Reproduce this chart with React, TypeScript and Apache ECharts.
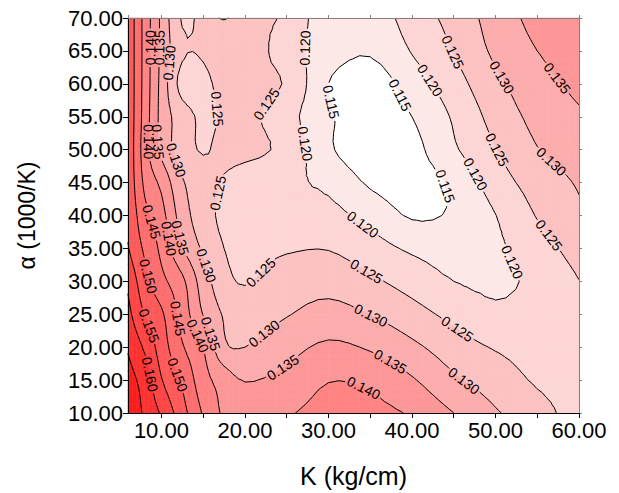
import React, { useEffect, useRef } from "react";
import * as echarts from "echarts";

// ---------------- data ----------------
const kValues = [6, 8, 10, 12.5, 15, 17.5, 20, 25, 30, 35, 40, 45, 50, 55, 60];
const alphaValues = [10, 15, 20, 25, 30, 35, 40, 45, 50, 55, 60, 65, 70];

const zAt10 = [0.169, 0.1642, 0.1594, 0.1519, 0.1445, 0.1392, 0.1376, 0.1395, 0.1418, 0.1415, 0.1394, 0.135, 0.1305, 0.127, 0.1225];
const zAt15 = [0.167, 0.1628, 0.1553, 0.1492, 0.142, 0.1378, 0.1348, 0.1365, 0.1398, 0.139, 0.1355, 0.1308, 0.1276, 0.1244, 0.1228];
const zAt20 = [0.1645, 0.1592, 0.1526, 0.1455, 0.14, 0.131, 0.13, 0.1332, 0.1359, 0.1344, 0.1311, 0.1274, 0.1246, 0.1232, 0.1232];
const zAt25 = [0.1615, 0.1548, 0.1508, 0.143, 0.1348, 0.1295, 0.1275, 0.1297, 0.1318, 0.1299, 0.1269, 0.1236, 0.1209, 0.1222, 0.1238];
const zAt30 = [0.159, 0.1517, 0.1465, 0.1411, 0.1325, 0.1268, 0.1247, 0.1273, 0.1281, 0.1259, 0.123, 0.12, 0.1193, 0.121, 0.1249];
const zAt35 = [0.1553, 0.1491, 0.1438, 0.1353, 0.1292, 0.125, 0.1235, 0.1245, 0.1248, 0.1222, 0.1192, 0.118, 0.1192, 0.1228, 0.1272];
const zAt40 = [0.1545, 0.1465, 0.1418, 0.1325, 0.1271, 0.124, 0.1234, 0.1212, 0.1215, 0.1183, 0.1145, 0.1157, 0.1199, 0.1253, 0.1292];
const zAt45 = [0.154, 0.144, 0.1388, 0.1305, 0.1273, 0.1245, 0.1225, 0.1208, 0.119, 0.1143, 0.113, 0.116, 0.1225, 0.1272, 0.1305];
const zAt50 = [0.154, 0.1425, 0.1338, 0.1275, 0.1246, 0.1265, 0.1265, 0.1235, 0.1158, 0.112, 0.1135, 0.1193, 0.1248, 0.1298, 0.1325];
const zAt55 = [0.154, 0.143, 0.1335, 0.1273, 0.1242, 0.1255, 0.1265, 0.1218, 0.1158, 0.112, 0.115, 0.1206, 0.1268, 0.1315, 0.1343];
const zAt60 = [0.154, 0.1432, 0.1335, 0.1232, 0.1238, 0.1265, 0.1268, 0.1245, 0.115, 0.1125, 0.1174, 0.1229, 0.1288, 0.1332, 0.1362];
const zAt65 = [0.154, 0.1433, 0.134, 0.1258, 0.1256, 0.128, 0.128, 0.1225, 0.1172, 0.1155, 0.1203, 0.1252, 0.131, 0.135, 0.1375];
const zAt70 = [0.154, 0.1433, 0.134, 0.1245, 0.126, 0.1248, 0.126, 0.1242, 0.1165, 0.117, 0.1223, 0.1267, 0.1322, 0.1365, 0.1385];
const zRows = [zAt10, zAt15, zAt20, zAt25, zAt30, zAt35, zAt40, zAt45, zAt50, zAt55, zAt60, zAt65, zAt70];

const contourLevels = [0.115, 0.12, 0.125, 0.13, 0.135, 0.14, 0.145, 0.15, 0.155, 0.16, 0.165];

// contour labels: [K, alpha, level] (approximate spot on the line where the label sits)
const contourLabels: [number, number, number][] = [
  [8.75, 65.5, 0.14], [9.8, 65.5, 0.135], [10.8, 63.2, 0.13],
  [16.8, 56.2, 0.125], [22.6, 56.9, 0.125], [26.6, 65.5, 0.12], [27.2, 50.9, 0.12],
  [30.2, 57.2, 0.115], [38.3, 58.1, 0.115], [43, 44.1, 0.115],
  [42.4, 60.7, 0.12], [45, 64.9, 0.125], [50.9, 61.1, 0.13], [56.9, 60.4, 0.135],
  [47.8, 46.4, 0.12], [50.5, 50.2, 0.125], [56.5, 47.9, 0.13],
  [56.3, 36.9, 0.125], [52, 32.9, 0.12], [34.1, 38.6, 0.12],
  [22.2, 31, 0.125], [34.5, 31.4, 0.125], [45.5, 22.9, 0.125],
  [22.4, 21.9, 0.13], [35, 24.6, 0.13], [46.5, 15.3, 0.13],
  [24.6, 16.8, 0.135], [37.1, 17.1, 0.135], [34, 13.2, 0.14],
  [16.8, 43.4, 0.125], [12.2, 48.6, 0.13], [8.5, 51.2, 0.14], [9.6, 51.2, 0.135],
  [8.5, 38.9, 0.145], [11.5, 36.6, 0.14], [12.2, 36.6, 0.135], [15.6, 32.5, 0.13],
  [8.5, 30.8, 0.15], [8.4, 23.2, 0.155], [11.7, 24.3, 0.145],
  [14.6, 21.9, 0.14], [15.6, 21.9, 0.135], [8.75, 15.9, 0.16], [12.1, 15.9, 0.15],
];

// ---------------- styles ----------------
const FONT = '"Liberation Sans", Arial, Helvetica, sans-serif';
const bandColors = [
  "#ffffff", "#fde8e8", "#fdd5d5", "#fcc1c1", "#fcacac", "#fd9797",
  "#ff8383", "#ff6e6e", "#ff5959", "#ff4444", "#ff3030", "#ff1c1c",
];
const SUB = 4;
const LABEL_FONT = 14;

// ---------------- helpers ----------------
type Pt = [number, number];
type V3 = [number, number, number];
interface Label { x: number; y: number; theta: number; li: number; text: string; hw: number; hh: number; }
interface Geo { key: string; nu: number; nv: number; X: number[]; Y: number[]; F: number[][]; pieces: Pt[][][]; labels: Label[]; }

const nK = kValues.length;
const nA = alphaValues.length;

function catmull(p0: number, p1: number, p2: number, p3: number, t: number) {
  const t2 = t * t, t3 = t2 * t;
  return 0.5 * (2 * p1 + (-p0 + p2) * t + (2 * p0 - 5 * p1 + 4 * p2 - p3) * t2 + (-p0 + 3 * p1 - 3 * p2 + p3) * t3);
}
function at(arr: number[], i: number) {
  const n = arr.length;
  if (i < 0) return arr[0] + i * (arr[1] - arr[0]);
  if (i > n - 1) return arr[n - 1] + (i - n + 1) * (arr[n - 1] - arr[n - 2]);
  return arr[i];
}
function zNode(i: number, j: number): number {
  if (j < 0) return 2 * zNode(i, 0) - zNode(i, 1);
  if (j > nA - 1) return 2 * zNode(i, nA - 1) - zNode(i, nA - 2);
  return at(zRows[j], i);
}
function along(arr: number[], u: number) {
  const i = Math.min(Math.max(Math.floor(u), 0), arr.length - 2);
  return catmull(at(arr, i - 1), arr[i], arr[i + 1], at(arr, i + 2), u - i);
}
function sampleZ(u: number, v: number) {
  const i = Math.min(Math.floor(u), nK - 2), t = u - i;
  const j = Math.min(Math.floor(v), nA - 2), s = v - j;
  const r: number[] = [];
  for (let m = -1; m <= 2; m++) {
    const jj = j + m;
    r.push(catmull(zNode(i - 1, jj), zNode(i, jj), zNode(i + 1, jj), zNode(i + 2, jj), t));
  }
  return catmull(r[0], r[1], r[2], r[3], s);
}
function bandOf(v: number) {
  let k = 0;
  while (k < contourLevels.length && v >= contourLevels[k]) k++;
  return k;
}

function traceLevel(F: number[][], X: number[], Y: number[], nu: number, nv: number, L: number): Pt[][] {
  type Hit = [string, Pt];
  const segs: [Hit, Hit][] = [];
  const cross = (a1: number, b1: number, a2: number, b2: number): Hit => {
    const id1 = b1 * nu + a1, id2 = b2 * nu + a2;
    const pa = id1 < id2 ? [a1, b1] : [a2, b2];
    const pb = id1 < id2 ? [a2, b2] : [a1, b1];
    const v1 = F[pa[1]][pa[0]], v2 = F[pb[1]][pb[0]];
    const t = (L - v1) / (v2 - v1);
    return [Math.min(id1, id2) + "_" + Math.max(id1, id2), [X[pa[0]] + t * (X[pb[0]] - X[pa[0]]), Y[pa[1]] + t * (Y[pb[1]] - Y[pa[1]])]];
  };
  for (let b = 0; b < nv - 1; b++) {
    for (let a = 0; a < nu - 1; a++) {
      const tris = [[[a, b], [a + 1, b], [a + 1, b + 1]], [[a, b], [a + 1, b + 1], [a, b + 1]]];
      for (const tri of tris) {
        const hits: Hit[] = [];
        for (let e = 0; e < 3; e++) {
          const p = tri[e], q = tri[(e + 1) % 3];
          const up = F[p[1]][p[0]] >= L, uq = F[q[1]][q[0]] >= L;
          if (up !== uq) hits.push(cross(p[0], p[1], q[0], q[1]));
        }
        if (hits.length === 2) segs.push([hits[0], hits[1]]);
      }
    }
  }
  const adj = new Map<string, number[]>();
  segs.forEach((s, idx) => {
    for (const h of s) {
      if (!adj.has(h[0])) adj.set(h[0], []);
      adj.get(h[0])!.push(idx);
    }
  });
  const used = new Array(segs.length).fill(false);
  const extend = (list: Pt[], key0: string) => {
    let key = key0;
    for (;;) {
      const c = (adj.get(key) || []).find((i) => !used[i]);
      if (c === undefined) break;
      used[c] = true;
      const s = segs[c];
      const other = s[0][0] === key ? s[1] : s[0];
      list.push(other[1]);
      key = other[0];
    }
  };
  const lines: Pt[][] = [];
  for (let s0 = 0; s0 < segs.length; s0++) {
    if (used[s0]) continue;
    used[s0] = true;
    const fwd: Pt[] = [segs[s0][0][1], segs[s0][1][1]];
    extend(fwd, segs[s0][1][0]);
    const bwd: Pt[] = [];
    extend(bwd, segs[s0][0][0]);
    lines.push(bwd.reverse().concat(fwd));
  }
  return lines;
}

function placeLabel(anchor: number[], lines: Pt[][], li: number, text: string): Label {
  const hw = (LABEL_FONT * (0.556 * (text.length - 1) + 0.278)) / 2 + 1.8;
  const hh = 6.5;
  let best = Infinity, bl = -1, bs = -1;
  let bp: Pt = [anchor[0], anchor[1]];
  lines.forEach((pts, l) => {
    for (let s = 0; s < pts.length - 1; s++) {
      const [x1, y1] = pts[s], [x2, y2] = pts[s + 1];
      const dx = x2 - x1, dy = y2 - y1, len2 = dx * dx + dy * dy;
      let t = len2 > 0 ? ((anchor[0] - x1) * dx + (anchor[1] - y1) * dy) / len2 : 0;
      t = Math.max(0, Math.min(1, t));
      const px = x1 + t * dx, py = y1 + t * dy;
      const d = (px - anchor[0]) ** 2 + (py - anchor[1]) ** 2;
      if (d < best) { best = d; bl = l; bs = s; bp = [px, py]; }
    }
  });
  if (bl < 0) return { x: anchor[0], y: anchor[1], theta: 0, li, text, hw, hh };
  const pts = lines[bl];
  const walk = (dir: number): Pt => {
    let cur: Pt = bp, rem = 14;
    let k = dir > 0 ? bs + 1 : bs;
    while (k >= 0 && k < pts.length) {
      const d = Math.hypot(pts[k][0] - cur[0], pts[k][1] - cur[1]);
      if (d >= rem) { const f = rem / d; return [cur[0] + (pts[k][0] - cur[0]) * f, cur[1] + (pts[k][1] - cur[1]) * f]; }
      rem -= d; cur = pts[k]; k += dir;
    }
    return cur;
  };
  const A = walk(-1), B = walk(1);
  let theta = Math.atan2(B[1] - A[1], B[0] - A[0]);
  if (theta > Math.PI / 2) theta -= Math.PI;
  if (theta <= -Math.PI / 2) theta += Math.PI;
  return { x: bp[0], y: bp[1], theta, li, text, hw, hh };
}

function clipInside(p: Pt, q: Pt, b: Label): [number, number] | null {
  const c = Math.cos(b.theta), sn = Math.sin(b.theta);
  const loc = (pt: Pt) => { const dx = pt[0] - b.x, dy = pt[1] - b.y; return [dx * c + dy * sn, -dx * sn + dy * c]; };
  const [a1, q1] = loc(p), [a2, q2] = loc(q);
  let t0 = 0, t1 = 1;
  const lim = (f0: number, df: number, lo: number, hi: number) => {
    if (Math.abs(df) < 1e-12) return f0 >= lo && f0 <= hi;
    let ta = (lo - f0) / df, tb = (hi - f0) / df;
    if (ta > tb) { const tmp = ta; ta = tb; tb = tmp; }
    t0 = Math.max(t0, ta); t1 = Math.min(t1, tb);
    return t0 < t1;
  };
  if (!lim(a1, a2 - a1, -b.hw, b.hw)) return null;
  if (!lim(q1, q2 - q1, -b.hh, b.hh)) return null;
  return t0 < t1 ? [t0, t1] : null;
}

function cutGaps(lines: Pt[][], boxes: Label[]): Pt[][] {
  if (!boxes.length) return lines;
  const out: Pt[][] = [];
  const lerp = (p: Pt, q: Pt, t: number): Pt => [p[0] + (q[0] - p[0]) * t, p[1] + (q[1] - p[1]) * t];
  for (const pts of lines) {
    let cur: Pt[] | null = null;
    for (let s = 0; s < pts.length - 1; s++) {
      const p = pts[s], q = pts[s + 1];
      const ins: [number, number][] = [];
      for (const b of boxes) { const iv = clipInside(p, q, b); if (iv) ins.push(iv); }
      ins.sort((x, y) => x[0] - y[0]);
      const outs: [number, number][] = [];
      let start = 0;
      for (const [i0, i1] of ins) { if (i0 > start) outs.push([start, i0]); start = Math.max(start, i1); }
      if (start < 1) outs.push([start, 1]);
      if (!outs.length) { if (cur && cur.length > 1) out.push(cur); cur = null; continue; }
      for (const [s0, s1] of outs) {
        const ps = lerp(p, q, s0), pe = lerp(p, q, s1);
        if (s0 > 1e-9 || !cur) { if (cur && cur.length > 1) out.push(cur); cur = [ps]; }
        cur.push(pe);
        if (s1 < 1 - 1e-9) { out.push(cur); cur = null; }
      }
    }
    if (cur && cur.length > 1) out.push(cur);
  }
  return out;
}

let geoCache: Geo | null = null;
function getGeo(api: any): Geo {
  const c0 = api.coord([kValues[0], alphaValues[0]]);
  const c1 = api.coord([kValues[nK - 1], alphaValues[nA - 1]]);
  const key = [c0[0], c0[1], c1[0], c1[1]].join(",");
  if (geoCache && geoCache.key === key) return geoCache;
  const nu = (nK - 1) * SUB + 1, nv = (nA - 1) * SUB + 1;
  const X: number[] = [], Y: number[] = [], F: number[][] = [];
  for (let a = 0; a < nu; a++) X.push(api.coord([along(kValues, a / SUB), alphaValues[0]])[0]);
  for (let b = 0; b < nv; b++) Y.push(api.coord([kValues[0], along(alphaValues, b / SUB)])[1]);
  for (let b = 0; b < nv; b++) {
    const row: number[] = [];
    for (let a = 0; a < nu; a++) row.push(sampleZ(a / SUB, b / SUB));
    F.push(row);
  }
  const raw = contourLevels.map((L) => traceLevel(F, X, Y, nu, nv, L));
  const labels = contourLabels.map(([k, al, lev]) => {
    const li = contourLevels.findIndex((l) => Math.abs(l - lev) < 1e-9);
    return placeLabel(api.coord([k, al]), raw[li], li, lev.toFixed(3));
  });
  const pieces = raw.map((lines, li) => cutGaps(lines, labels.filter((lb) => lb.li === li)));
  geoCache = { key, nu, nv, X, Y, F, pieces, labels };
  return geoCache;
}

function clipPoly(poly: V3[], L: number, keepAbove: boolean): V3[] {
  const out: V3[] = [];
  for (let i = 0; i < poly.length; i++) {
    const P = poly[i], Q = poly[(i + 1) % poly.length];
    const pin = keepAbove ? P[2] >= L : P[2] <= L;
    const qin = keepAbove ? Q[2] >= L : Q[2] <= L;
    if (pin) out.push(P);
    if (pin !== qin) {
      const t = (L - P[2]) / (Q[2] - P[2]);
      out.push([P[0] + t * (Q[0] - P[0]), P[1] + t * (Q[1] - P[1]), L]);
    }
  }
  return out;
}

function rectEl(x1: number, y1: number, x2: number, y2: number, color: string) {
  return {
    type: "rect",
    shape: { x: Math.min(x1, x2), y: Math.min(y1, y2), width: Math.abs(x2 - x1), height: Math.abs(y2 - y1) },
    style: { fill: color, stroke: color, lineWidth: 0.6 },
  };
}

function renderBands(params: any, api: any) {
  const g = getGeo(api);
  const idx = params.dataIndex;
  const i = idx % nK, j = Math.floor(idx / nK);
  if (i >= nK - 1 || j >= nA - 1) return null;
  const { X, Y, F } = g;
  const a0 = i * SUB, b0 = j * SUB;
  const children: any[] = [];
  const first = bandOf(F[b0][a0]);
  let uniform = true;
  for (let b = b0; b <= b0 + SUB && uniform; b++)
    for (let a = a0; a <= a0 + SUB; a++) if (bandOf(F[b][a]) !== first) { uniform = false; break; }
  if (uniform) {
    children.push(rectEl(X[a0], Y[b0], X[a0 + SUB], Y[b0 + SUB], bandColors[first]));
    return { type: "group", children };
  }
  for (let b = b0; b < b0 + SUB; b++) {
    for (let a = a0; a < a0 + SUB; a++) {
      const bs = [bandOf(F[b][a]), bandOf(F[b][a + 1]), bandOf(F[b + 1][a + 1]), bandOf(F[b + 1][a])];
      if (bs.every((x) => x === bs[0])) {
        children.push(rectEl(X[a], Y[b], X[a + 1], Y[b + 1], bandColors[bs[0]]));
        continue;
      }
      const v = (aa: number, bb: number): V3 => [X[aa], Y[bb], F[bb][aa]];
      const tris: V3[][] = [
        [v(a, b), v(a + 1, b), v(a + 1, b + 1)],
        [v(a, b), v(a + 1, b + 1), v(a, b + 1)],
      ];
      for (const tri of tris) {
        const zs = tri.map((p) => p[2]);
        const k0 = bandOf(Math.min(...zs)), k1 = bandOf(Math.max(...zs));
        for (let k = k0; k <= k1; k++) {
          let poly = tri;
          if (k > 0) poly = clipPoly(poly, contourLevels[k - 1], true);
          if (poly.length >= 3 && k < contourLevels.length) poly = clipPoly(poly, contourLevels[k], false);
          if (poly.length >= 3) {
            children.push({
              type: "polygon",
              shape: { points: poly.map((p) => [p[0], p[1]]) },
              style: { fill: bandColors[k], stroke: bandColors[k], lineWidth: 0.6 },
            });
          }
        }
      }
    }
  }
  return { type: "group", children };
}

function renderLines(params: any, api: any) {
  const g = getGeo(api);
  const pieces = g.pieces[params.dataIndex] || [];
  return {
    type: "group",
    children: pieces.map((pts) => ({
      type: "polyline",
      shape: { points: pts },
      style: { stroke: "#000", lineWidth: 1, fill: null },
    })),
  };
}

function renderLabels(params: any, api: any) {
  const g = getGeo(api);
  const lb = g.labels[params.dataIndex];
  return {
    type: "text",
    x: lb.x,
    y: lb.y,
    rotation: -lb.theta,
    style: {
      text: lb.text,
      fill: "#000",
      fontSize: LABEL_FONT,
      fontFamily: FONT,
      align: "center",
      verticalAlign: "middle",
    },
  };
}

const gridNodes: number[][] = [];
zRows.forEach((row, j) => row.forEach((z, i) => gridNodes.push([kValues[i], alphaValues[j], z])));

const axisFont = { fontSize: 22, color: "#000", fontFamily: FONT };

const option: any = {
  animation: false,
  backgroundColor: "#ffffff",
  grid: { left: 128, right: 40, top: 18, bottom: 76 },
  xAxis: [
    {
      type: "value", min: 6, max: 60, splitNumber: 10, position: "bottom", z: 10,
      name: "K (kg/cm)", nameLocation: "middle", nameGap: 50,
      nameTextStyle: { fontSize: 25, color: "#000", fontFamily: FONT },
      axisLine: { lineStyle: { color: "#000", width: 1 } },
      axisTick: { show: true, length: 5, lineStyle: { color: "#000" } },
      axisLabel: { ...axisFont, margin: 6, showMinLabel: false, formatter: (v: number) => (v % 10 === 0 ? v.toFixed(2) : "") },
      splitLine: { show: false },
    },
    {
      type: "value", min: 6, max: 60, splitNumber: 10, position: "top", z: 10,
      axisLine: { lineStyle: { color: "#808080", width: 1 } },
      axisTick: { show: true, length: 3, lineStyle: { color: "#808080" } },
      axisLabel: { show: false },
      splitLine: { show: false },
    },
  ],
  yAxis: [
    {
      type: "value", min: 10, max: 70, interval: 5, position: "left", z: 10,
      name: "α (1000/K)", nameLocation: "middle", nameGap: 90,
      nameTextStyle: { fontSize: 23, color: "#000", fontFamily: FONT },
      axisLine: { show: true, lineStyle: { color: "#000", width: 1 } },
      axisTick: { show: true, length: 5, lineStyle: { color: "#000" } },
      axisLabel: { ...axisFont, margin: 5, formatter: (v: number) => v.toFixed(2) },
      splitLine: { show: false },
    },
    {
      type: "value", min: 10, max: 70, interval: 5, position: "right", z: 10,
      axisLine: { show: true, lineStyle: { color: "#808080", width: 1 } },
      axisTick: { show: true, length: 3, lineStyle: { color: "#808080" } },
      axisLabel: { show: false },
      splitLine: { show: false },
    },
  ],
  series: [
    { type: "custom", name: "bands", xAxisIndex: 0, yAxisIndex: 0, z: 1, silent: true, renderItem: renderBands, data: gridNodes },
    { type: "custom", name: "contours", xAxisIndex: 0, yAxisIndex: 0, z: 2, silent: true, renderItem: renderLines, data: contourLevels.map((l) => [l]) },
    { type: "custom", name: "labels", xAxisIndex: 0, yAxisIndex: 0, z: 3, silent: true, renderItem: renderLabels, data: contourLabels },
  ],
};

export default function App() {
  const ref = useRef<HTMLDivElement>(null);
  useEffect(() => {
    document.body.style.margin = "0";
    geoCache = null;
    const chart = echarts.init(ref.current!, null, { renderer: "svg" });
    chart.setOption(option);
    return () => chart.dispose();
  }, []);
  return <div ref={ref} style={{ position: "absolute", left: 0, top: 0, width: 619, height: 493 }} />;
}
